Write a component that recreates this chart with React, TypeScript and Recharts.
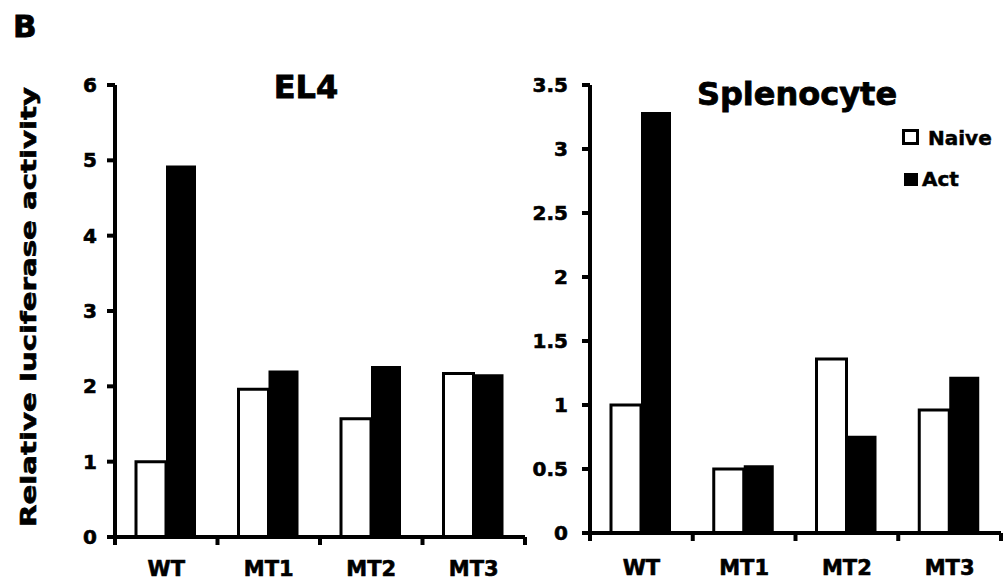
import { BarChart, Bar, XAxis, YAxis } from "recharts";

const categories = ["WT", "MT1", "MT2", "MT3"];
const el4Naive = [1.0, 1.96, 1.57, 2.17];
const el4Act = [4.93, 2.21, 2.27, 2.16];
const splenoNaive = [1.0, 0.5, 1.36, 0.96];
const splenoAct = [3.29, 0.53, 0.76, 1.22];
const el4Ticks = [0, 1, 2, 3, 4, 5, 6];
const splenoTicks = [0, 0.5, 1, 1.5, 2, 2.5, 3, 3.5];
const edgeTicks = [0, 1, 2, 3, 4];

const FONT = "'DejaVu Sans', sans-serif";

const el4Data = categories.map((name, i) => ({ name, idx: i, naive: el4Naive[i], act: el4Act[i] }));
const splenoData = categories.map((name, i) => ({ name, idx: i, naive: splenoNaive[i], act: splenoAct[i] }));

const tickStyle = { fill: "#000", stroke: "#000", strokeWidth: 0.6, fontSize: 20, fontWeight: 700, fontFamily: FONT };
const catTickStyle = { fill: "#000", stroke: "#000", strokeWidth: 0.6, fontSize: 21, fontWeight: 700, fontFamily: FONT };

const YLabel = ({ viewBox }: any) => {
  const x = viewBox.x - 19;
  const y = viewBox.y + viewBox.height / 2 - 4;
  return (
    <text
      x={x}
      y={y}
      transform={`rotate(-90, ${x}, ${y})`}
      textAnchor="middle"
      textLength={440}
      lengthAdjust="spacingAndGlyphs"
      style={{ fontSize: 21, fontWeight: 700, fontFamily: FONT, fill: "#000", stroke: "#000", strokeWidth: 0.6 }}
    >
      Relative luciferase activity
    </text>
  );
};

const NoLabel = () => <g />;

const LegendBox = () => (
  <div style={{ position: "absolute", left: 900, top: 128, width: 110, height: 70, fontFamily: FONT, fontWeight: 700, fontSize: 20, lineHeight: "20px", WebkitTextStroke: "0.5px #000" }}>
    <div style={{ position: "absolute", left: 2, top: 1, width: 17, height: 16, border: "3px solid #000", boxSizing: "border-box", background: "#fff" }} />
    <span style={{ position: "absolute", left: 28, top: 0 }}>Naive</span>
    <div style={{ position: "absolute", left: 4, top: 45, width: 14, height: 13, background: "#000" }} />
    <span style={{ position: "absolute", left: 22, top: 41 }}>Act</span>
  </div>
);

function Panel({ data, ticks, max, tickMargin, catMargin, margin, width, withLabel }: any) {
  return (
    <BarChart width={width} height={585} data={data} margin={margin} barCategoryGap={21} barGap={0}>
      <XAxis
        xAxisId="b"
        dataKey="name"
        height={39}
        axisLine={false}
        tickLine={false}
        tickSize={0}
        tickMargin={catMargin}
        tick={catTickStyle}
      />
      <XAxis
        xAxisId="a"
        type="number"
        dataKey="idx"
        domain={[0, 4]}
        ticks={edgeTicks}
        interval={0}
        allowDataOverflow
        height={1}
        tick={<NoLabel />}
        tickSize={8}
        axisLine={{ stroke: "#000", strokeWidth: 4 }}
        tickLine={{ stroke: "#000", strokeWidth: 4 }}
      />
      <YAxis
        width={60}
        domain={[0, max]}
        ticks={ticks}
        interval={0}
        tickSize={8}
        tickMargin={tickMargin}
        tick={tickStyle}
        axisLine={{ stroke: "#000", strokeWidth: 4 }}
        tickLine={{ stroke: "#000", strokeWidth: 4 }}
        label={withLabel ? <YLabel /> : undefined}
      />
      <Bar xAxisId="b" dataKey="naive" name="Naive" fill="#fff" stroke="#000" strokeWidth={3} isAnimationActive={false} />
      <Bar xAxisId="b" dataKey="act" name="Act" fill="#000" isAnimationActive={false} />
    </BarChart>
  );
}

export default function App() {
  return (
    <div style={{ position: "absolute", left: 0, top: 0, width: 1008, height: 585, background: "#fff", overflow: "hidden" }}>
      <div style={{ position: "absolute", left: 0, top: 0 }}>
        <Panel
          data={el4Data}
          ticks={el4Ticks}
          max={6}
          tickMargin={10}
          catMargin={23}
          width={540}
          margin={{ top: 85, right: 15, bottom: 8, left: 55 }}
          withLabel
        />
      </div>
      <div style={{ position: "absolute", left: 520, top: 0 }}>
        <Panel
          data={splenoData}
          ticks={splenoTicks}
          max={3.5}
          tickMargin={14}
          catMargin={26}
          width={488}
          margin={{ top: 85, right: 7, bottom: 12, left: 10 }}
        />
      </div>
      <LegendBox />
      <svg width={1008} height={585} style={{ position: "absolute", left: 0, top: 0, pointerEvents: "none" }}>
        <text x={13} y={37} style={{ fontSize: 31, fontWeight: 700, fontFamily: FONT, stroke: "#000", strokeWidth: 0.8 }}>B</text>
        <text x={306} y={98} textAnchor="middle" style={{ fontSize: 32, fontWeight: 700, fontFamily: FONT, stroke: "#000", strokeWidth: 0.8 }}>EL4</text>
        <text x={797} y={105} textAnchor="middle" style={{ fontSize: 32, fontWeight: 700, fontFamily: FONT, stroke: "#000", strokeWidth: 0.8 }}>Splenocyte</text>
      </svg>
    </div>
  );
}
